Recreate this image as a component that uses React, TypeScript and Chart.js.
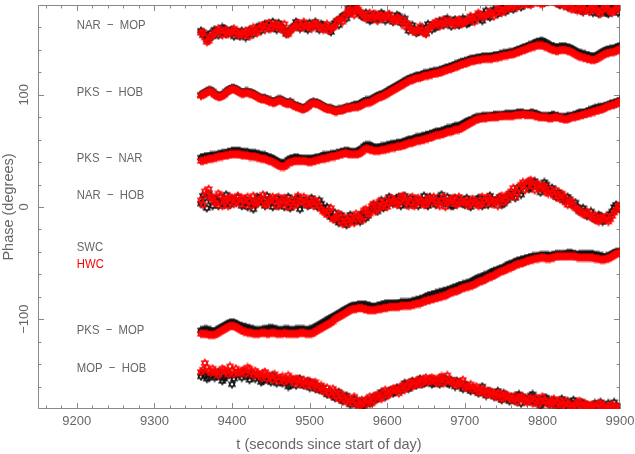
import React, { useEffect, useRef } from 'react';
import { Chart, registerables } from 'chart.js';

Chart.register(...registerables);

// sample times (seconds since start of day)
const TIMES = [
  9360, 9365, 9370, 9375, 9380, 9385, 9390, 9395, 9400, 9405,
  9410, 9415, 9420, 9425, 9430, 9435, 9440, 9445, 9450, 9455,
  9460, 9465, 9470, 9475, 9480, 9485, 9490, 9495, 9500, 9505,
  9510, 9515, 9520, 9525, 9530, 9535, 9540, 9545, 9550, 9555,
  9560, 9565, 9570, 9575, 9580, 9585, 9590, 9595, 9600, 9605,
  9610, 9615, 9620, 9625, 9630, 9635, 9640, 9645, 9650, 9655,
  9660, 9665, 9670, 9675, 9680, 9685, 9690, 9695, 9700, 9705,
  9710, 9715, 9720, 9725, 9730, 9735, 9740, 9745, 9750, 9755,
  9760, 9765, 9770, 9775, 9780, 9785, 9790, 9795, 9800, 9805,
  9810, 9815, 9820, 9825, 9830, 9835, 9840, 9845, 9850, 9855,
  9860, 9865, 9870, 9875, 9880, 9885, 9890, 9895, 9900,
];
// intermediate sample times
const TIMES_MID = [
  9362.5, 9367.5, 9372.5, 9377.5, 9382.5, 9387.5, 9392.5, 9397.5, 9402.5, 9407.5,
  9412.5, 9417.5, 9422.5, 9427.5, 9432.5, 9437.5, 9442.5, 9447.5, 9452.5, 9457.5,
  9462.5, 9467.5, 9472.5, 9477.5, 9482.5, 9487.5, 9492.5, 9497.5, 9502.5, 9507.5,
  9512.5, 9517.5, 9522.5, 9527.5, 9532.5, 9537.5, 9542.5, 9547.5, 9552.5, 9557.5,
  9562.5, 9567.5, 9572.5, 9577.5, 9582.5, 9587.5, 9592.5, 9597.5, 9602.5, 9607.5,
  9612.5, 9617.5, 9622.5, 9627.5, 9632.5, 9637.5, 9642.5, 9647.5, 9652.5, 9657.5,
  9662.5, 9667.5, 9672.5, 9677.5, 9682.5, 9687.5, 9692.5, 9697.5, 9702.5, 9707.5,
  9712.5, 9717.5, 9722.5, 9727.5, 9732.5, 9737.5, 9742.5, 9747.5, 9752.5, 9757.5,
  9762.5, 9767.5, 9772.5, 9777.5, 9782.5, 9787.5, 9792.5, 9797.5, 9802.5, 9807.5,
  9812.5, 9817.5, 9822.5, 9827.5, 9832.5, 9837.5, 9842.5, 9847.5, 9852.5, 9857.5,
  9862.5, 9867.5, 9872.5, 9877.5, 9882.5, 9887.5, 9892.5, 9897.5,
];

// ---------- NAR - MOP ----------
const NAR_MOP_SWC = [
  157, 154, 150, 152, 157, 155, 159, 156, 158, 154,
  152, 155, 153, 156, 158, 161, 160, 163, 162, 160,
  164, 160, 154, 158, 161, 163, 162, 160, 164, 162,
  161, 163, 159, 158, 162, 166, 168, 171, 177, 175,
  179, 172, 169, 171, 167, 170, 168, 171, 169, 167,
  168, 170, 166, 163, 160, 158, 156, 160, 155, 161,
  163, 161, 165, 167, 164, 166, 163, 165, 167, 164,
  166, 170, 168, 172, 170, 173, 175, 174, 177, 176,
  178, 179, 180, 183, 186, 182, 185, 188, 184, 187,
  189, 185, 183, 186, 182, 179, 181, 177, 175, 178,
  176, 173, 177, 179, 174, 172, 176, 178, 175,
];
const NAR_MOP_SWC_MID = [
  153, 149, 155, 158, 153, 160, 154, 157, 152, 156,
  157, 151, 158, 154, 160, 157, 163, 159, 165, 158,
  161, 157, 156, 160, 165, 159, 163, 158, 161, 165,
  158, 162, 160, 156, 164, 162, 170, 168, 173, 178,
  174, 170, 173, 166, 172, 167, 173, 166, 171, 165,
  171, 164, 168, 157, 162, 155, 159, 157, 163, 158,
  160, 166, 162, 168, 161, 167, 162, 168, 163, 169,
  167, 171, 166, 175, 169, 176, 172, 178, 174, 180,
  176, 181, 178, 184, 181, 187, 183, 190, 182, 186,
  184, 188, 180, 183, 178, 182, 176, 180, 174, 177,
  179, 175, 172, 178, 173, 177, 180, 173,
];
const NAR_MOP_HWC = [
  155, 151, 148, 153, 156, 157, 157, 154, 156, 157,
  154, 153, 155, 158, 156, 159, 162, 161, 159, 163,
  162, 158, 155, 157, 160, 164, 160, 162, 161, 163,
  162, 160, 161, 157, 160, 165, 167, 170, 175, 173,
  177, 174, 170, 169, 168, 172, 170, 168, 170, 168,
  166, 168, 167, 164, 159, 157, 158, 157, 154, 160,
  162, 164, 163, 165, 166, 164, 166, 163, 165, 167,
  168, 169, 171, 170, 172, 172, 173, 176, 175, 178,
  177, 180, 182, 181, 184, 180, 183, 186, 181, 184,
  185, 187, 181, 184, 180, 178, 177, 175, 178, 176,
  174, 177, 175, 172, 178, 176, 173, 177, 176,
];
const NAR_MOP_HWC_MID = [
  156, 147, 152, 155, 159, 153, 158, 155, 159, 153,
  155, 157, 152, 160, 155, 161, 158, 164, 160, 162,
  159, 163, 154, 159, 162, 160, 165, 161, 159, 164,
  160, 158, 163, 159, 161, 167, 165, 172, 176, 171,
  176, 172, 168, 173, 170, 166, 171, 169, 172, 166,
  169, 165, 161, 162, 157, 156, 161, 155, 158, 162,
  165, 161, 167, 163, 165, 162, 167, 164, 166, 170,
  165, 173, 169, 171, 174, 170, 177, 173, 176, 179,
  179, 178, 183, 180, 186, 182, 185, 181, 188, 183,
  186, 182, 185, 179, 181, 176, 179, 177, 174, 179,
  176, 178, 174, 176, 179, 174, 175, 178,
];

// ---------- PKS - HOB ----------
const PKS_HOB_SWC = [
  100, 102, 104, 103, 100, 99, 101, 104, 106, 105,
  103, 102, 103, 102, 100, 98, 97, 96, 95, 94,
  96, 95, 93, 94, 91, 90, 88, 89, 92, 94,
  93, 91, 89, 88, 87, 86, 87, 88, 89, 90,
  91, 92, 94, 95, 96, 98, 100, 101, 103, 105,
  107, 109, 111, 113, 115, 116, 117, 118, 119, 120,
  121, 121, 122, 124, 125, 126, 127, 129, 130, 131,
  132, 133, 133, 134, 134, 134, 135, 136, 137, 137,
  138, 139, 140, 142, 143, 144, 146, 147, 148, 146,
  144, 143, 142, 143, 143, 142, 140, 138, 137, 136,
  135, 134, 135, 137, 139, 140, 141, 142, 143,
];
const PKS_HOB_SWC_MID = [
  101, 103, 104, 101, 99, 100, 103, 105, 106, 104,
  102, 103, 102, 101, 99, 97, 97, 95, 94, 95,
  96, 94, 93, 92, 90, 89, 88, 90, 93, 93,
  92, 90, 88, 88, 86, 87, 87, 89, 89, 91,
  91, 93, 95, 95, 97, 99, 100, 102, 104, 106,
  108, 110, 112, 114, 115, 117, 117, 119, 119, 120,
  121, 122, 123, 124, 125, 127, 128, 129, 130, 132,
  132, 133, 134, 134, 134, 135, 135, 136, 137, 138,
  138, 140, 141, 142, 144, 145, 147, 148, 147, 145,
  143, 142, 143, 143, 142, 141, 139, 137, 136, 135,
  134, 134, 136, 138, 140, 141, 141, 143,
];
const PKS_HOB_HWC = [
  99, 101, 103, 102, 99, 98, 100, 103, 105, 104,
  102, 101, 102, 101, 99, 97, 96, 95, 94, 93,
  95, 94, 92, 93, 90, 89, 87, 88, 91, 93,
  92, 90, 88, 87, 86, 85, 86, 87, 88, 89,
  89, 90, 92, 93, 94, 96, 98, 99, 101, 103,
  105, 107, 109, 111, 113, 114, 115, 116, 117, 118,
  119, 119, 120, 122, 123, 124, 125, 127, 128, 129,
  130, 131, 131, 132, 132, 132, 133, 134, 135, 135,
  136, 137, 138, 140, 141, 142, 143, 144, 144, 143,
  141, 140, 139, 140, 140, 139, 137, 135, 134, 133,
  132, 131, 132, 134, 136, 137, 138, 139, 141,
];
const PKS_HOB_HWC_MID = [
  100, 102, 103, 100, 98, 99, 102, 104, 105, 103,
  101, 102, 101, 100, 98, 96, 96, 94, 93, 94,
  95, 93, 92, 91, 89, 88, 87, 89, 92, 92,
  91, 89, 87, 87, 85, 86, 86, 88, 88, 89,
  89, 91, 93, 93, 95, 97, 98, 100, 102, 104,
  106, 108, 110, 112, 113, 115, 115, 117, 117, 118,
  119, 120, 121, 122, 123, 125, 126, 127, 128, 130,
  130, 131, 132, 132, 132, 133, 133, 134, 135, 136,
  136, 138, 139, 140, 142, 143, 144, 144, 143, 142,
  140, 139, 140, 140, 139, 138, 136, 134, 133, 132,
  131, 131, 133, 135, 137, 138, 138, 140,
];

// ---------- PKS - NAR ----------
const PKS_NAR_SWC = [
  44, 45, 45, 46, 46, 47, 48, 49, 50, 50,
  50, 49, 49, 48, 48, 47, 46, 45, 44, 42,
  40, 39, 40, 43, 44, 44, 43, 43, 43, 43,
  44, 45, 46, 46, 47, 48, 49, 50, 50, 49,
  49, 51, 54, 55, 54, 53, 53, 54, 55, 56,
  56, 57, 58, 59, 60, 61, 62, 63, 64, 65,
  66, 67, 68, 69, 70, 71, 72, 73, 75, 77,
  78, 80, 80, 81, 81, 81, 82, 82, 82, 83,
  83, 83, 84, 84, 83, 84, 83, 82, 81, 81,
  81, 82, 81, 80, 80, 81, 82, 83, 84, 84,
  86, 87, 88, 89, 90, 91, 92, 93, 95,
];
const PKS_NAR_SWC_MID = [
  44, 45, 46, 46, 47, 48, 48, 49, 50, 50,
  49, 49, 48, 48, 47, 46, 46, 44, 43, 41,
  39, 39, 42, 43, 44, 43, 43, 43, 43, 44,
  44, 46, 46, 47, 47, 48, 49, 50, 49, 49,
  50, 52, 55, 55, 53, 53, 54, 54, 55, 56,
  57, 57, 58, 60, 60, 62, 62, 63, 64, 65,
  67, 67, 68, 70, 70, 72, 72, 74, 76, 77,
  79, 80, 81, 81, 81, 82, 82, 82, 83, 83,
  83, 84, 84, 83, 83, 84, 83, 81, 81, 81,
  82, 81, 80, 80, 81, 81, 82, 84, 84, 85,
  86, 88, 89, 89, 90, 92, 93, 94,
];
const PKS_NAR_HWC = [
  41, 42, 43, 43, 44, 45, 46, 46, 47, 47,
  47, 46, 46, 45, 45, 44, 43, 42, 41, 39,
  37, 36, 37, 40, 41, 41, 41, 41, 40, 41,
  42, 43, 43, 44, 45, 46, 47, 48, 47, 47,
  47, 48, 51, 52, 51, 50, 50, 51, 52, 53,
  53, 54, 55, 56, 57, 58, 59, 60, 61, 62,
  63, 64, 65, 66, 67, 68, 69, 70, 72, 74,
  76, 78, 79, 79, 80, 80, 80, 81, 81, 81,
  81, 82, 82, 83, 82, 82, 81, 80, 80, 80,
  79, 80, 80, 79, 78, 79, 80, 81, 82, 83,
  84, 85, 86, 87, 88, 90, 91, 92, 94,
];
const PKS_NAR_HWC_MID = [
  41, 42, 43, 44, 45, 45, 46, 47, 47, 47,
  46, 46, 45, 45, 44, 43, 43, 41, 40, 38,
  36, 36, 39, 40, 41, 41, 41, 40, 40, 41,
  42, 43, 44, 45, 45, 46, 47, 48, 47, 47,
  47, 49, 52, 51, 50, 50, 51, 51, 52, 53,
  54, 54, 55, 57, 57, 59, 59, 60, 61, 62,
  64, 64, 65, 67, 67, 69, 69, 71, 73, 75,
  77, 78, 79, 79, 80, 80, 80, 81, 81, 81,
  81, 82, 82, 82, 82, 82, 81, 80, 80, 79,
  79, 80, 79, 78, 78, 80, 80, 81, 82, 83,
  84, 85, 86, 87, 89, 90, 91, 93,
];

// ---------- NAR - HOB ----------
const NAR_HOB_SWC = [
  3, 8, 12, 1, 6, 9, 2, 5, 7, 4,
  6, 3, 0, 5, 2, 8, 4, 10, 6, 3,
  1, 7, 4, -1, 5, 8, 3, 6, 2, 4,
  0, 3, -3, -6, -9, -12, -7, -14, -10, -12,
  -9, -13, -5, -8, -2, 0, 3, -1, 5, 7,
  4, 9, 6, 2, 8, 5, 1, 6, 3, 9,
  5, 8, 11, 3, 6, 1, 4, 7, 2, 5,
  6, 3, 8, 4, 2, 7, 5, 9, 3, 6,
  10, 8, 14, 18, 21, 17, 23, 19, 16, 20,
  14, 11, 13, 8, 5, 7, 2, 0, -3, -5,
  -7, -9, -11, -8, -12, -10, -4, 2, -2,
];
const NAR_HOB_SWC_MID = [
  10, -1, 5, 8, 1, 4, 11, 2, 6, 9,
  1, 7, 3, -2, 9, 5, 1, 7, 0, 8,
  5, 0, 9, 2, 7, -2, 6, 1, 8, 3,
  6, -1, 0, -9, -5, -14, -11, -16, -7, -13,
  -11, -6, -10, -3, 2, -4, 6, 1, 9, 3,
  8, 1, 10, 4, 2, 7, 4, 10, 1, 5,
  2, 7, 4, 9, 1, 8, 5, 3, 8, 0,
  4, 8, 1, 6, 10, 3, 7, 2, 8, 12,
  12, 17, 11, 20, 16, 22, 18, 13, 22, 15,
  17, 9, 12, 6, 9, 2, 4, -4, -1, -8,
  -4, -11, -7, -13, -9, -6, 0, -1,
];
const NAR_HOB_HWC = [
  6, 14, 16, 9, 3, 10, 6, 1, 8, 5,
  3, 7, 9, 1, 4, 6, 11, 2, 7, 5,
  9, 2, 6, 4, 1, 10, 5, 3, 7, 1,
  4, -2, -5, -3, -11, -8, -13, -9, -15, -11,
  -6, -10, -3, -7, 1, -4, 5, 2, 0, 8,
  6, 3, 10, 7, 4, 1, 8, 5, 2, 7,
  9, 3, 6, 0, 5, 8, 2, 6, 4, 1,
  7, 4, 2, 6, 9, 3, 5, 8, 4, 11,
  14, 9, 17, 22, 19, 24, 15, 20, 18, 13,
  16, 10, 9, 12, 4, 6, 1, -2, -5, -7,
  -6, -10, -12, -9, -11, -13, -8, -3, 0,
];
const NAR_HOB_HWC_MID = [
  2, 11, 8, 4, 12, 1, 7, 9, 3, 10,
  8, 2, 6, 10, 3, 8, 2, 6, 9, 1,
  4, 8, 0, 7, 3, 5, 9, 2, 4, 6,
  1, -4, -7, -1, -10, -6, -15, -12, -9, -14,
  -8, -12, -2, -6, 3, -2, 0, 6, 3, 5,
  2, 9, 5, 1, 9, 3, 6, 2, 8, 4,
  6, 1, 9, 4, 7, 3, 9, 4, 6, 3,
  5, 1, 9, 3, 7, 5, 1, 10, 6, 9,
  17, 12, 20, 15, 23, 18, 21, 16, 19, 12,
  13, 15, 7, 10, 2, 5, -1, -3, -6, -4,
  -9, -7, -13, -10, -8, -11, -5, 1,
];

// ---------- PKS - MOP ----------
const PKS_MOP_SWC = [
  -110, -109, -110, -111, -110, -108, -106, -104, -103, -104,
  -106, -107, -108, -109, -110, -110, -109, -109, -108, -109,
  -110, -110, -109, -110, -110, -109, -109, -110, -109, -108,
  -106, -104, -102, -100, -98, -96, -94, -92, -90, -88,
  -88, -87, -87, -88, -89, -89, -88, -87, -86, -86,
  -86, -86, -85, -85, -85, -84, -83, -82, -80, -79,
  -78, -77, -76, -75, -74, -72, -71, -70, -69, -68,
  -66, -64, -63, -61, -60, -58, -57, -55, -54, -52,
  -51, -49, -48, -47, -46, -45, -44, -44, -43, -43,
  -44, -43, -42, -42, -42, -41, -42, -43, -42, -42,
  -42, -42, -43, -44, -45, -44, -42, -40, -40,
];
const PKS_MOP_SWC_MID = [
  -110, -109, -110, -111, -109, -107, -105, -103, -103, -105,
  -106, -107, -108, -109, -110, -110, -109, -108, -108, -109,
  -110, -109, -109, -110, -109, -109, -109, -110, -109, -107,
  -105, -103, -101, -99, -97, -95, -93, -91, -89, -88,
  -87, -87, -87, -88, -89, -88, -87, -86, -86, -86,
  -86, -85, -85, -85, -84, -83, -82, -81, -79, -78,
  -77, -76, -75, -74, -73, -72, -70, -69, -68, -67,
  -65, -63, -62, -61, -59, -57, -56, -55, -53, -51,
  -50, -48, -47, -46, -45, -44, -44, -43, -43, -43,
  -43, -42, -42, -42, -41, -41, -42, -42, -42, -42,
  -42, -43, -43, -44, -44, -43, -41, -40,
];
const PKS_MOP_HWC = [
  -113, -113, -114, -114, -113, -111, -109, -107, -106, -107,
  -109, -111, -112, -112, -113, -113, -112, -113, -112, -112,
  -113, -113, -113, -113, -113, -113, -112, -113, -113, -112,
  -110, -108, -106, -104, -102, -99, -97, -95, -93, -91,
  -91, -90, -91, -92, -92, -92, -91, -90, -90, -89,
  -89, -89, -88, -88, -88, -87, -86, -85, -84, -83,
  -82, -81, -80, -79, -77, -76, -75, -73, -72, -71,
  -70, -68, -66, -65, -63, -62, -60, -58, -57, -55,
  -54, -52, -51, -50, -48, -47, -46, -46, -45, -46,
  -46, -45, -44, -44, -44, -44, -44, -45, -45, -45,
  -45, -45, -46, -47, -47, -46, -44, -42, -41,
];
const PKS_MOP_HWC_MID = [
  -113, -113, -114, -114, -112, -110, -108, -106, -106, -108,
  -110, -111, -112, -113, -113, -112, -112, -113, -112, -113,
  -113, -112, -113, -113, -113, -112, -112, -113, -113, -111,
  -109, -107, -105, -103, -100, -98, -96, -94, -92, -91,
  -90, -90, -91, -92, -92, -91, -91, -90, -89, -89,
  -89, -88, -88, -88, -87, -86, -86, -84, -83, -82,
  -81, -80, -79, -78, -76, -75, -74, -72, -71, -70,
  -69, -67, -66, -64, -62, -61, -59, -57, -56, -54,
  -53, -51, -50, -49, -48, -47, -46, -45, -45, -46,
  -45, -44, -44, -44, -44, -44, -44, -45, -45, -45,
  -45, -46, -46, -47, -46, -45, -43, -41,
];

// ---------- MOP - HOB ----------
const MOP_HOB_SWC = [
  -151, -150, -152, -149, -151, -150, -153, -148, -158, -150,
  -149, -147, -151, -148, -153, -150, -155, -152, -156, -154,
  -153, -157, -155, -159, -154, -156, -158, -157, -161, -157,
  -160, -163, -165, -164, -168, -167, -171, -169, -172, -174,
  -176, -173, -177, -174, -171, -172, -168, -166, -167, -163,
  -165, -162, -161, -158, -160, -157, -155, -158, -156, -153,
  -157, -154, -156, -153, -158, -156, -155, -160, -158, -162,
  -161, -164, -163, -166, -164, -167, -168, -170, -166, -171,
  -169, -173, -167, -170, -172, -168, -174, -171, -175, -170,
  -176, -173, -178, -171, -175, -177, -172, -176, -174, -178,
  -177, -179, -176, -174, -178, -175, -177, -179, -180,
];
const MOP_HOB_SWC_MID = [
  -148, -153, -149, -152, -147, -155, -151, -149, -153, -147,
  -152, -150, -154, -149, -151, -156, -152, -154, -150, -157,
  -156, -154, -160, -155, -159, -153, -159, -155, -158, -162,
  -163, -161, -167, -166, -170, -165, -173, -168, -176, -171,
  -174, -178, -172, -175, -169, -170, -165, -169, -164, -166,
  -161, -164, -157, -162, -155, -159, -153, -157, -155, -158,
  -155, -158, -152, -157, -154, -160, -157, -162, -159, -164,
  -163, -166, -160, -168, -165, -169, -164, -172, -168, -173,
  -171, -168, -175, -170, -173, -167, -172, -177, -170, -174,
  -172, -177, -174, -179, -173, -176, -174, -179, -175, -177,
  -180, -175, -178, -176, -179, -177, -174, -178,
];
const MOP_HOB_HWC = [
  -147, -139, -146, -144, -148, -147, -145, -149, -146, -144,
  -148, -145, -143, -147, -146, -150, -148, -153, -151, -149,
  -155, -151, -154, -152, -157, -153, -156, -159, -155, -158,
  -162, -159, -164, -166, -162, -169, -166, -172, -170, -175,
  -173, -177, -174, -171, -175, -168, -170, -165, -168, -164,
  -162, -166, -159, -161, -156, -159, -154, -157, -152, -155,
  -153, -157, -151, -155, -154, -157, -159, -156, -161, -160,
  -163, -160, -165, -163, -167, -165, -169, -166, -170, -168,
  -172, -168, -171, -169, -174, -170, -172, -176, -169, -173,
  -175, -171, -174, -177, -173, -176, -178, -174, -177, -175,
  -178, -176, -179, -175, -177, -180, -176, -178, -179,
];
const MOP_HOB_HWC_MID = [
  -145, -143, -148, -146, -150, -144, -147, -142, -149, -147,
  -146, -149, -144, -150, -148, -152, -147, -150, -154, -152,
  -152, -156, -150, -155, -153, -158, -154, -157, -160, -156,
  -160, -164, -161, -168, -164, -171, -168, -174, -172, -169,
  -176, -172, -176, -169, -173, -167, -171, -163, -167, -162,
  -164, -160, -163, -157, -160, -155, -158, -153, -156, -152,
  -156, -152, -157, -150, -156, -155, -158, -154, -160, -158,
  -161, -165, -162, -167, -164, -168, -166, -171, -167, -170,
  -170, -174, -169, -173, -171, -175, -170, -174, -172, -176,
  -173, -177, -172, -176, -175, -179, -176, -173, -178, -176,
  -177, -179, -175, -178, -180, -177, -179, -178,
];

const SWC_SERIES = [
  [NAR_MOP_SWC, NAR_MOP_SWC_MID],
  [PKS_HOB_SWC, PKS_HOB_SWC_MID],
  [PKS_NAR_SWC, PKS_NAR_SWC_MID],
  [NAR_HOB_SWC, NAR_HOB_SWC_MID],
  [PKS_MOP_SWC, PKS_MOP_SWC_MID],
  [MOP_HOB_SWC, MOP_HOB_SWC_MID],
];
const HWC_SERIES = [
  [NAR_MOP_HWC, NAR_MOP_HWC_MID],
  [PKS_HOB_HWC, PKS_HOB_HWC_MID],
  [PKS_NAR_HWC, PKS_NAR_HWC_MID],
  [NAR_HOB_HWC, NAR_HOB_HWC_MID],
  [PKS_MOP_HWC, PKS_MOP_HWC_MID],
  [MOP_HOB_HWC, MOP_HOB_HWC_MID],
];

// baseline labels (anchored at t = LABEL_T, phase = LABEL_PHASE)
const BASELINE_LABELS = ['NAR  \u2212  MOP', 'PKS  \u2212  HOB', 'PKS  \u2212  NAR', 'NAR  \u2212  HOB', 'PKS  \u2212  MOP', 'MOP  \u2212  HOB'];
const LABEL_PHASE = [162, 102, 43.5, 10.5, -110, -144];
const LABEL_T = 9200;
const KEY_LABELS = ['SWC', 'HWC'];
const KEY_PHASE = [-36.3, -51.6];

const TEXT_GREY = '#666666';
const FRAME_GREY = '#888888';
const SWC_COLOR = '#111111';
const HWC_COLOR = '#ff0000';
const TICK_FONT = "'Liberation Sans', Arial, sans-serif";

function makeStar(color: string): HTMLCanvasElement {
  const c = document.createElement('canvas');
  c.width = 10;
  c.height = 10;
  const g = c.getContext('2d')!;
  g.strokeStyle = color;
  g.lineWidth = 1.1;
  const r = 3.8;
  const cx = 5;
  const cy = 5;
  for (const off of [-90, 90]) {
    g.beginPath();
    for (let k = 0; k < 3; k++) {
      const a = ((off + k * 120) * Math.PI) / 180;
      const px = cx + r * Math.cos(a);
      const py = cy + r * Math.sin(a);
      if (k === 0) g.moveTo(px, py);
      else g.lineTo(px, py);
    }
    g.closePath();
    g.stroke();
  }
  return c;
}

const framePlugin = {
  id: 'frameTicks',
  beforeDatasetsDraw(chart: any) {
    const { ctx, chartArea: a, scales } = chart;
    const xs = scales.x;
    const ys = scales.y;
    ctx.save();
    ctx.strokeStyle = FRAME_GREY;
    ctx.lineWidth = 1;
    ctx.beginPath();
    ctx.rect(Math.round(a.left) + 0.5, Math.round(a.top) + 0.5, Math.round(a.right - a.left) - 1, Math.round(a.bottom - a.top) - 1);
    ctx.stroke();
    ctx.beginPath();
    for (let v = 9160; v <= 9900; v += 20) {
      const len = v % 100 === 0 ? 6 : 3.5;
      const px = Math.round(xs.getPixelForValue(v)) + 0.5;
      ctx.moveTo(px, a.bottom);
      ctx.lineTo(px, a.bottom - len);
      ctx.moveTo(px, a.top);
      ctx.lineTo(px, a.top + len);
    }
    for (let v = -160; v <= 160; v += 20) {
      const len = v % 100 === 0 ? 6 : 3.5;
      const py = Math.round(ys.getPixelForValue(v)) + 0.5;
      ctx.moveTo(a.left, py);
      ctx.lineTo(a.left + len, py);
      ctx.moveTo(a.right, py);
      ctx.lineTo(a.right - len, py);
    }
    ctx.stroke();
    ctx.restore();
  },
  afterDatasetsDraw(chart: any) {
    const { ctx, scales } = chart;
    const xs = scales.x;
    const ys = scales.y;
    const x0 = xs.getPixelForValue(LABEL_T);
    const put = (text: string, phase: number, color: string) => {
      ctx.save();
      ctx.translate(x0, ys.getPixelForValue(phase));
      ctx.scale(0.87, 1);
      ctx.font = `13px ${TICK_FONT}`;
      ctx.textAlign = 'left';
      ctx.textBaseline = 'middle';
      ctx.fillStyle = color;
      ctx.fillText(text, 0, 0);
      ctx.restore();
    };
    BASELINE_LABELS.forEach((t, i) => put(t, LABEL_PHASE[i], TEXT_GREY));
    KEY_LABELS.forEach((t, i) => put(t, KEY_PHASE[i], i === 0 ? TEXT_GREY : HWC_COLOR));
  },
};

export default function App() {
  const ref = useRef<HTMLCanvasElement>(null);
  useEffect(() => {
    const canvas = ref.current;
    if (!canvas) return;
    const swcStar = makeStar(SWC_COLOR);
    const hwcStar = makeStar(HWC_COLOR);
    const mk = (pair: number[][], star: HTMLCanvasElement, label: string) => ({
      label,
      data: [
        ...TIMES.map((t, i) => ({ x: t, y: pair[0][i] })),
        ...TIMES_MID.map((t, i) => ({ x: t, y: pair[1][i] })),
      ],
      pointStyle: star,
      pointRadius: 4,
      showLine: false,
    });
    // Chart.js paints dataset 0 last, so HWC (red) goes first to sit on top
    const datasets = [
      ...HWC_SERIES.map((s, i) => mk(s, hwcStar, 'HWC ' + i)),
      ...SWC_SERIES.map((s, i) => mk(s, swcStar, 'SWC ' + i)),
    ];
    const chart = new Chart(canvas, {
      type: 'scatter',
      data: { datasets },
      plugins: [framePlugin],
      options: {
        responsive: false,
        animation: false,
        events: [],
        layout: { padding: { left: 0, top: 4, right: 15, bottom: 0 } },
        plugins: { legend: { display: false }, tooltip: { enabled: false } },
        scales: {
          x: {
            type: 'linear',
            min: 9150,
            max: 9900,
            afterFit: (s: any) => {
              s.height = 45;
              s.paddingLeft = 0;
              s.paddingRight = 0;
            },
            grid: { display: false, drawTicks: false },
            border: { display: false },
            ticks: {
              stepSize: 100,
              includeBounds: false,
              autoSkip: false,
              maxRotation: 0,
              padding: 5,
              color: TEXT_GREY,
              font: { family: TICK_FONT, size: 13 },
              callback: (v: any) => String(v),
            },
            title: {
              display: true,
              text: 't (seconds since start of day)',
              color: TEXT_GREY,
              font: { family: TICK_FONT, size: 14.5 },
              padding: { top: 0, bottom: 0 },
            },
          },
          y: {
            type: 'linear',
            min: -180,
            max: 180,
            afterFit: (s: any) => {
              s.width = 38;
              s.paddingTop = 0;
              s.paddingBottom = 0;
            },
            grid: { display: false, drawTicks: false },
            border: { display: false },
            ticks: {
              stepSize: 100,
              includeBounds: false,
              minRotation: 90,
              maxRotation: 90,
              crossAlign: 'center',
              padding: -1,
              color: TEXT_GREY,
              font: { family: TICK_FONT, size: 13 },
              callback: (v: any) => (v < 0 ? '\u2212' + Math.abs(v) : String(v)),
            },
            title: {
              display: true,
              text: 'Phase (degrees)',
              color: TEXT_GREY,
              font: { family: TICK_FONT, size: 14.5 },
              padding: { top: 0, bottom: 0 },
            },
          },
        },
      } as any,
    });
    return () => chart.destroy();
  }, []);
  return (
    <canvas
      ref={ref}
      width={635}
      height={454}
      style={{ position: 'fixed', left: 0, top: 0, width: 635, height: 454, display: 'block' }}
    />
  );
}
